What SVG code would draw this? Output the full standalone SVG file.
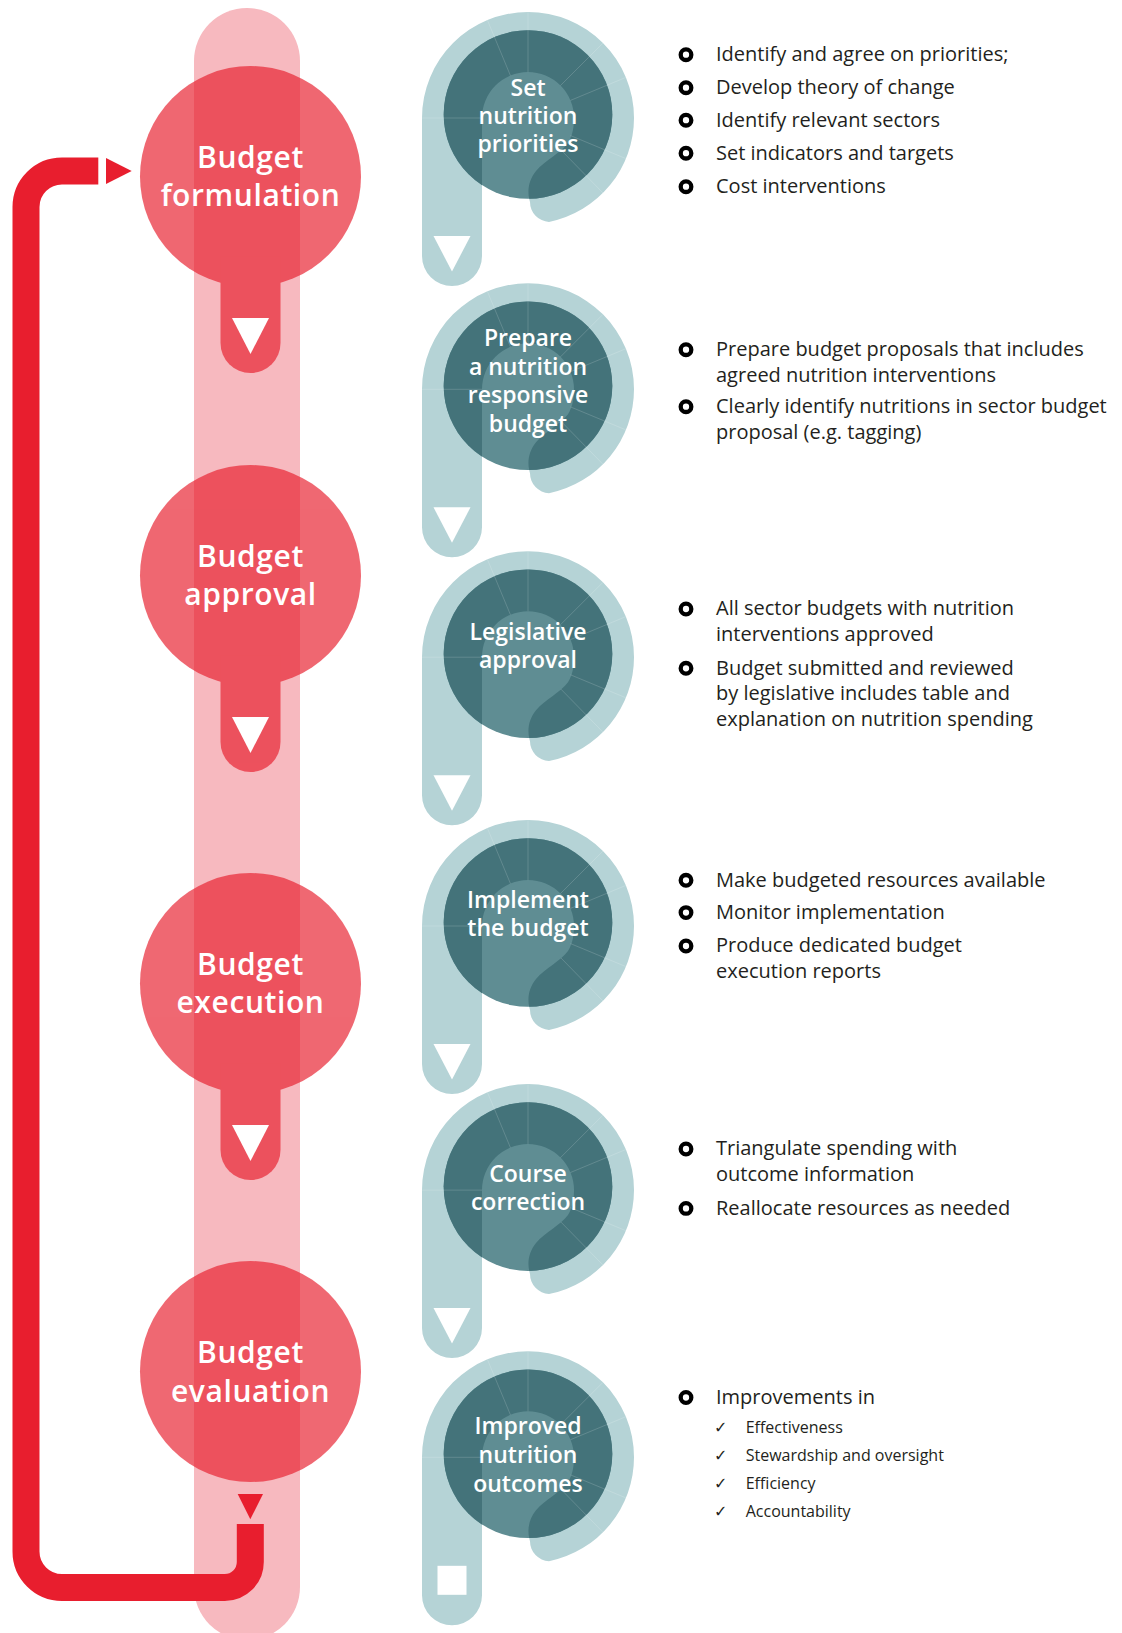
<svg xmlns="http://www.w3.org/2000/svg" width="1122" height="1633" viewBox="0 0 1122 1633">
<style>
.title{font-family:"Open Sans","Liberation Sans",sans-serif;font-weight:600;font-size:30px;fill:#fff;text-anchor:middle;letter-spacing:0.6px}
.tl{font-family:"Open Sans","Liberation Sans",sans-serif;font-weight:600;font-size:23px;fill:#fff;text-anchor:middle}
.body{font-family:"Open Sans","Liberation Sans",sans-serif;font-size:20px;fill:#231F20}
.sub{font-family:"Open Sans","Liberation Sans",sans-serif;font-size:16px;fill:#231F20}
.chk{font-family:"DejaVu Sans",sans-serif;font-size:16px;fill:#231F20}
.bul{fill:none;stroke:#000;stroke-width:4.3}
.rc{fill:#E8202F}
.seg{stroke:#fff;stroke-opacity:0.16;stroke-width:1}
</style>
<defs>
<path id="band" d="M-106 0 A106 106 0 0 1 106 0 A106 106 0 0 1 21 103.9 A20 20 0 0 1 2 84 C-1 74 0 63 8 53 C17 42 33 35 40 25 C45 17 46 8 46 0 A46 46 0 0 0 -46 0 V138 A30 30 0 0 1 -106 138 Z"/>
<clipPath id="dc"><circle cx="0" cy="-3.5" r="84.3"/></clipPath>
<g id="pnode">
<use href="#band" fill="#B5D3D6"/>
<circle cx="0" cy="-3.5" r="84.3" fill="#5F8D93"/>
<use href="#band" fill="#44737A" clip-path="url(#dc)"/>
<g class="seg">
<line x1="-46" y1="0" x2="-106" y2="0"/>
<line x1="-17.6" y1="-42.5" x2="-40.6" y2="-97.9"/>
<line x1="0" y1="-46" x2="0" y2="-106"/>
<line x1="32.5" y1="-32.5" x2="75" y2="-75"/>
<line x1="42.5" y1="-17.6" x2="97.9" y2="-40.6"/>
<line x1="42.5" y1="17.6" x2="97.9" y2="40.6"/>
<line x1="33" y1="32" x2="75" y2="75"/>
</g>
</g>
</defs>

<rect x="194" y="8" width="106" height="1632" rx="53" fill="#F7B9BF"/>

<g id="connectors">
<path d="M250.3 1524 V1562 A25.5 25.5 0 0 1 224.8 1587.5 H62 A36 36 0 0 1 26 1551.5 V207 A36 36 0 0 1 62 171 H98.3" fill="none" stroke="#E81E2E" stroke-width="27"/>
<polygon points="106,158 106,184 131.7,171" fill="#E81E2E"/>
<polygon points="237.7,1494 263,1494 250.3,1519.3" fill="#E81E2E"/>
</g>

<g id="node-budget-formulation" transform="translate(250.5,176.5)">
<g opacity="0.68" class="rc"><circle r="110.5"/><path d="M-30 80 V166.5 A30 30 0 0 0 30 166.5 V80 Z"/></g>
<polygon points="-18.5,141.5 18.5,141.5 0,177.5" fill="#fff"/>
<text class="title" y="-9">Budget</text>
<text class="title" y="29.5">formulation</text>
</g>
<g id="node-budget-approval" transform="translate(250.5,575.5)">
<g opacity="0.68" class="rc"><circle r="110.5"/><path d="M-30 80 V166.5 A30 30 0 0 0 30 166.5 V80 Z"/></g>
<polygon points="-18.5,141.5 18.5,141.5 0,177.5" fill="#fff"/>
<text class="title" y="-9">Budget</text>
<text class="title" y="29.5">approval</text>
</g>
<g id="node-budget-execution" transform="translate(250.5,983.5)">
<g opacity="0.68" class="rc"><circle r="110.5"/><path d="M-30 80 V166.5 A30 30 0 0 0 30 166.5 V80 Z"/></g>
<polygon points="-18.5,141.5 18.5,141.5 0,177.5" fill="#fff"/>
<text class="title" y="-9">Budget</text>
<text class="title" y="29.5">execution</text>
</g>
<g id="node-budget-evaluation" transform="translate(250.5,1371.5)">
<g opacity="0.68" class="rc"><circle r="110.5"/></g>
<text class="title" y="-8.5">Budget</text>
<text class="title" y="30">evaluation</text>
</g>

<g id="node-set-priorities" transform="translate(528,118)">
<use href="#pnode"/>
<polygon points="-94.5,118 -57.5,118 -76,153.5" fill="#fff"/>
<text class="tl" y="-22">Set</text>
<text class="tl" y="5.8">nutrition</text>
<text class="tl" y="33.6">priorities</text>
</g>
<g id="node-prepare-budget" transform="translate(528,389.3)">
<use href="#pnode"/>
<polygon points="-94.5,118 -57.5,118 -76,153.5" fill="#fff"/>
<text class="tl" y="-43.3">Prepare</text>
<text class="tl" y="-14.5">a nutrition</text>
<text class="tl" y="14">responsive</text>
<text class="tl" y="42.4">budget</text>
</g>
<g id="node-legislative-approval" transform="translate(528,657.2)">
<use href="#pnode"/>
<polygon points="-94.5,118 -57.5,118 -76,153.5" fill="#fff"/>
<text class="tl" y="-17.5">Legislative</text>
<text class="tl" y="11">approval</text>
</g>
<g id="node-implement-budget" transform="translate(528,926)">
<use href="#pnode"/>
<polygon points="-94.5,118 -57.5,118 -76,153.5" fill="#fff"/>
<text class="tl" y="-18">Implement</text>
<text class="tl" y="10">the budget</text>
</g>
<g id="node-course-correction" transform="translate(528,1190.1)">
<use href="#pnode"/>
<polygon points="-94.5,118 -57.5,118 -76,153.5" fill="#fff"/>
<text class="tl" y="-8">Course</text>
<text class="tl" y="20">correction</text>
</g>
<g id="node-improved-outcomes" transform="translate(528,1457.3)">
<use href="#pnode"/>
<rect x="-90.5" y="108.5" width="29" height="29" fill="#fff"/>
<text class="tl" y="-23.3">Improved</text>
<text class="tl" y="6">nutrition</text>
<text class="tl" y="34.4">outcomes</text>
</g>

<g id="list-formulation">
<circle class="bul" cx="686" cy="54.7" r="5.3"/><text class="body" x="716" y="61">Identify and agree on priorities;</text>
<circle class="bul" cx="686" cy="87.7" r="5.3"/><text class="body" x="716" y="94">Develop theory of change</text>
<circle class="bul" cx="686" cy="120.2" r="5.3"/><text class="body" x="716" y="126.5">Identify relevant sectors</text>
<circle class="bul" cx="686" cy="153.2" r="5.3"/><text class="body" x="716" y="159.5">Set indicators and targets</text>
<circle class="bul" cx="686" cy="186.7" r="5.3"/><text class="body" x="716" y="193">Cost interventions</text>
</g>
<g id="list-prepare">
<circle class="bul" cx="686" cy="349.7" r="5.3"/><text class="body" x="716" y="356">Prepare budget proposals that includes</text>
<text class="body" x="716" y="381.5">agreed nutrition interventions</text>
<circle class="bul" cx="686" cy="406.7" r="5.3"/><text class="body" x="716" y="413">Clearly identify nutritions in sector budget</text>
<text class="body" x="716" y="438.5">proposal (e.g. tagging)</text>
</g>
<g id="list-legislative">
<circle class="bul" cx="686" cy="609" r="5.3"/><text class="body" x="716" y="615.3">All sector budgets with nutrition</text>
<text class="body" x="716" y="641.3">interventions approved</text>
<circle class="bul" cx="686" cy="668.3" r="5.3"/><text class="body" x="716" y="674.6">Budget submitted and reviewed</text>
<text class="body" x="716" y="700.3">by legislative includes table and</text>
<text class="body" x="716" y="725.6">explanation on nutrition spending</text>
</g>
<g id="list-implement">
<circle class="bul" cx="686" cy="880.3" r="5.3"/><text class="body" x="716" y="886.6">Make budgeted resources available</text>
<circle class="bul" cx="686" cy="912.6" r="5.3"/><text class="body" x="716" y="918.9">Monitor implementation</text>
<circle class="bul" cx="686" cy="946" r="5.3"/><text class="body" x="716" y="952.3">Produce dedicated budget</text>
<text class="body" x="716" y="978.2">execution reports</text>
</g>
<g id="list-course">
<circle class="bul" cx="686" cy="1149" r="5.3"/><text class="body" x="716" y="1155.3">Triangulate spending with</text>
<text class="body" x="716" y="1181.3">outcome information</text>
<circle class="bul" cx="686" cy="1208.4" r="5.3"/><text class="body" x="716" y="1214.7">Reallocate resources as needed</text>
</g>
<g id="list-improved">
<circle class="bul" cx="686" cy="1397.5" r="5.3"/><text class="body" x="716" y="1404">Improvements in</text>
<text class="chk" x="714" y="1432.7">✓</text><text class="sub" x="745.7" y="1432.7">Effectiveness</text>
<text class="chk" x="714" y="1460.7">✓</text><text class="sub" x="745.7" y="1460.7">Stewardship and oversight</text>
<text class="chk" x="714" y="1489.3">✓</text><text class="sub" x="745.7" y="1489.3">Efficiency</text>
<text class="chk" x="714" y="1517.3">✓</text><text class="sub" x="745.7" y="1517.3">Accountability</text>
</g>
</svg>
